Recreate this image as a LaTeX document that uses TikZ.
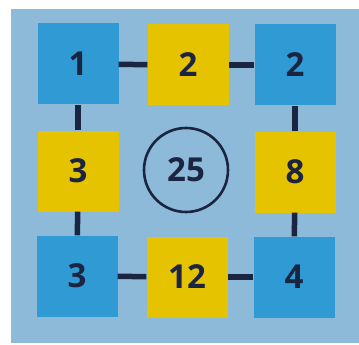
\documentclass[tikz,border=0pt]{standalone}
\usepackage{fontspec}
\setmainfont{Open Sans}
\usetikzlibrary{positioning}
\definecolor{boardbg}{HTML}{8DBAD8}
\definecolor{tileblue}{HTML}{2F9AD4}
\definecolor{tileyellow}{HTML}{E6C300}
\definecolor{inkdark}{HTML}{1B2440}

\begin{document}
\begin{tikzpicture}[
    x=1pt, y=-1pt,
    every node/.style={font=\fontsize{33}{33}\selectfont\bfseries, text=inkdark},
    tile/.style={rectangle, minimum size=81pt, inner sep=0pt},
    bluetile/.style={tile, fill=tileblue},
    yellowtile/.style={tile, fill=tileyellow},
    target/.style={circle, draw=inkdark, line width=2.6pt, minimum size=84pt, inner sep=0pt},
    link/.style={draw=inkdark, line width=5.5pt}
]
\useasboundingbox (0,0) rectangle (359,345);
\fill[boardbg] (11,9) rectangle (359,343);

\node[bluetile]   (tl) at (78, 64)   {1};
\node[yellowtile] (tm) at (188, 65)  {2};
\node[bluetile]   (tr) at (295, 65)  {2};
\node[yellowtile] (ml) at (78, 171)  {3};
\node[yellowtile] (mr) at (295, 172) {8};
\node[bluetile]   (bl) at (77, 276)  {3};
\node[yellowtile] (bm) at (187, 277) {12};
\node[bluetile]   (br) at (294, 277) {4};
\node[target]     (sum) at (186, 170) {25};

\draw[link] (tl) -- (tm);
\draw[link] (tm) -- (tr);
\draw[link] (tr) -- (mr);
\draw[link] (mr) -- (br);
\draw[link] (br) -- (bm);
\draw[link] (bm) -- (bl);
\draw[link] (bl) -- (ml);
\draw[link] (ml) -- (tl);

\end{tikzpicture}
\end{document}
